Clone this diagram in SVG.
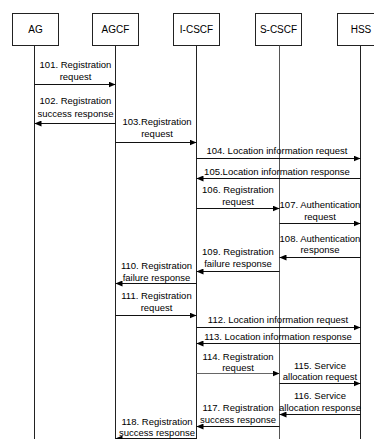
<svg xmlns="http://www.w3.org/2000/svg" width="374" height="439" viewBox="0 0 374 439">
<style>
.box{fill:#fff;stroke:#222;stroke-width:1}
.life{stroke:#222;stroke-width:1}
.msg{stroke:#111;stroke-width:1;fill:none;marker-end:url(#ah)}
text{font-family:"Liberation Sans",Arial,sans-serif;fill:#000}
.lbl{font-size:10px;text-anchor:middle}
.t{font-size:9.5px;text-anchor:middle}
</style>
<defs>
<marker id="ah" markerUnits="userSpaceOnUse" markerWidth="7" markerHeight="6" refX="7" refY="3" orient="auto">
<path d="M0,0 L7,3 L0,6 z" fill="#000"/>
</marker>
</defs>
<g id="AG"><rect class="box" x="12.5" y="13.5" width="46" height="32"/><line class="life" x1="34.5" y1="45.5" x2="34.5" y2="439"/><text class="lbl" x="35.5" y="33">AG</text></g>
<g id="AGCF"><rect class="box" x="92.5" y="13.5" width="46" height="32"/><line class="life" x1="115.5" y1="45.5" x2="115.5" y2="439"/><text class="lbl" x="115.5" y="33">AGCF</text></g>
<g id="I-CSCF"><rect class="box" x="173.5" y="13.5" width="46" height="32"/><line class="life" x1="196.5" y1="45.5" x2="196.5" y2="439"/><text class="lbl" x="196.5" y="33">I-CSCF</text></g>
<g id="S-CSCF"><rect class="box" x="255.5" y="13.5" width="46" height="32"/><line class="life" x1="279.5" y1="45.5" x2="279.5" y2="439" style="stroke:#555"/><text class="lbl" x="278.5" y="33">S-CSCF</text></g>
<g id="HSS"><rect class="box" x="337.5" y="13.5" width="46" height="32"/><line class="life" x1="360.5" y1="45.5" x2="360.5" y2="439"/><text class="lbl" x="361" y="33">HSS</text></g>
<g id="connectors">
<line class="msg" x1="34.5" y1="84.5" x2="115.5" y2="84.5"/>
<line class="msg" x1="115.5" y1="123.5" x2="34.5" y2="123.5"/>
<line class="msg" x1="115.5" y1="142.5" x2="196.5" y2="142.5"/>
<line class="msg" x1="196.5" y1="158.5" x2="360.5" y2="158.5"/>
<line class="msg" x1="360.5" y1="178.5" x2="196.5" y2="178.5"/>
<line class="msg" x1="196.5" y1="208.5" x2="279.5" y2="208.5"/>
<line class="msg" x1="279.5" y1="223.5" x2="360.5" y2="223.5"/>
<line class="msg" x1="360.5" y1="257.5" x2="279.5" y2="257.5"/>
<line class="msg" x1="279.5" y1="271.5" x2="196.5" y2="271.5"/>
<line class="msg" x1="196.5" y1="283.5" x2="115.5" y2="283.5"/>
<line class="msg" x1="115.5" y1="315.5" x2="196.5" y2="315.5"/>
<line class="msg" x1="196.5" y1="327.5" x2="360.5" y2="327.5"/>
<line class="msg" x1="360.5" y1="343.5" x2="196.5" y2="343.5"/>
<line class="msg" x1="196.5" y1="373.5" x2="279.5" y2="373.5" style="stroke:#666"/>
<line class="msg" x1="279.5" y1="383.5" x2="360.5" y2="383.5"/>
<line class="msg" x1="360.5" y1="414.5" x2="279.5" y2="414.5"/>
<line class="msg" x1="279.5" y1="426.5" x2="196.5" y2="426.5"/>
<line class="msg" x1="196.5" y1="438.5" x2="115.5" y2="438.5"/>
</g>
<g id="labels">
<text class="t" x="75.5" y="68">101. Registration<tspan x="75.5" y="80">request</tspan></text>
<text class="t" x="75.5" y="104">102. Registration<tspan x="75.5" y="116.5">success response</tspan></text>
<text class="t" x="157" y="125">103.Registration<tspan x="157" y="137">request</tspan></text>
<text class="t" x="277" y="154">104. Location information request</text>
<text class="t" x="277" y="174.5">105.Location information response</text>
<text class="t" x="238" y="193">106. Registration<tspan x="238" y="205">request</tspan></text>
<text class="t" x="320" y="208">107. Authentication<tspan x="320" y="219.5">request</tspan></text>
<text class="t" x="320" y="241.5">108. Authentication<tspan x="320" y="253">response</tspan></text>
<text class="t" x="238" y="254.5">109. Registration<tspan x="238" y="266.5">failure response</tspan></text>
<text class="t" x="156.5" y="268.5">110. Registration<tspan x="156.5" y="280.5">failure response</tspan></text>
<text class="t" x="156.5" y="298.5">111. Registration<tspan x="156.5" y="310.5">request</tspan></text>
<text class="t" x="278" y="322.5">112. Location information request</text>
<text class="t" x="278" y="339.5">113. Location information response</text>
<text class="t" x="238" y="359.5">114. Registration<tspan x="238" y="370.5">request</tspan></text>
<text class="t" x="320" y="368.5">115. Service<tspan x="320" y="379.5">allocation request</tspan></text>
<text class="t" x="320" y="398.5">116. Service<tspan x="320" y="410.5">allocation response</tspan></text>
<text class="t" x="238" y="410.5">117. Registration<tspan x="238" y="422.5">success response</tspan></text>
<text class="t" x="157" y="424.5">118. Registration<tspan x="157" y="435.5">success response</tspan></text>
</g>
</svg>
